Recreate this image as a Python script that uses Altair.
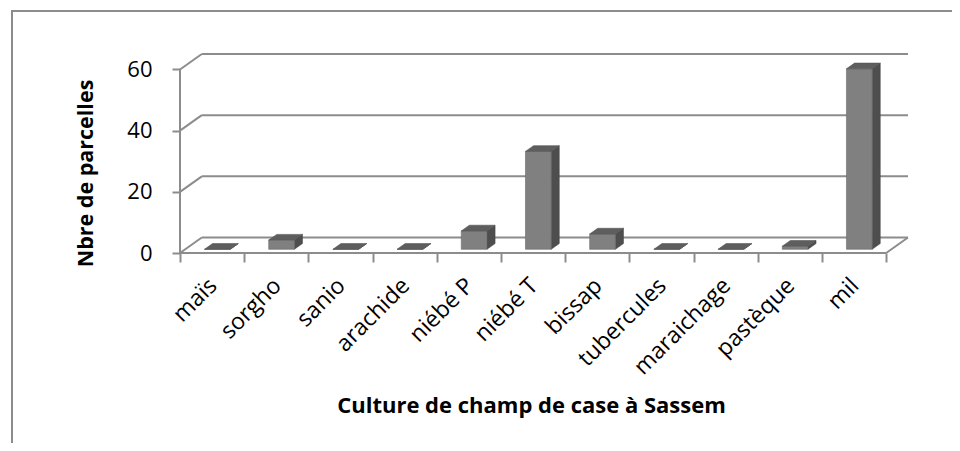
import json
import altair as alt
import pandas as pd

# ---- data ----
categories = ["maïs", "sorgho", "sanio", "arachide", "niébé P", "niébé T",
              "bissap", "tubercules", "maraichage", "pastèque", "mil"]
values = [0, 3, 0, 0, 6, 32, 5, 0, 0, 1, 59]
y_ticks = [0, 20, 40, 60]
x_title = "Culture de champ de case à Sassem"
y_title = "Nbre de parcelles"

# ---- 3D look (style constants, in scale units) ----
DEPTH_X = 0.34     # shift of the back wall along x (category units)
DEPTH_Y = 5.05     # shift of the back wall along y (value units)
BAR_W = 0.40       # bar width (fraction of a category)
BAR_F0 = 0.24      # depth of the bar's front face
BAR_D = 0.37       # depth of the bar
W, H = 728, 199
FONT = "Open Sans"
LINE = "#8c8c8c"

n = len(categories)
y_max = max(y_ticks)

# ---- tables built from the arrays ----
front_rows, top_rows, side_rows = [], [], []
for i, (c, v) in enumerate(zip(categories, values)):
    xl = i + 0.5 - BAR_W / 2 + BAR_F0 * DEPTH_X
    xr = xl + BAR_W
    y0 = BAR_F0 * DEPTH_Y
    y1 = v + y0
    ddx, ddy = BAR_D * DEPTH_X, BAR_D * DEPTH_Y
    front_rows.append(dict(cat=c, x=xl, x2=xr, y=y0, y2=y1))
    top_rows.append(dict(cat=c, y=y1, x=xl, x2=xr))
    top_rows.append(dict(cat=c, y=y1 + ddy, x=xl + ddx, x2=xr + ddx))
    side_rows.append(dict(cat=c, x=xr, y=y0, y2=y1))
    side_rows.append(dict(cat=c, x=xr + ddx, y=y0 + ddy, y2=y1 + ddy))
front = pd.DataFrame(front_rows)
top = pd.DataFrame(top_rows)
side = pd.DataFrame(side_rows)

seg_rows = []
for t in y_ticks:
    seg_rows.append(dict(x=DEPTH_X, x2=n + DEPTH_X, y=t + DEPTH_Y, y2=t + DEPTH_Y))
    seg_rows.append(dict(x=0, x2=DEPTH_X, y=t, y2=t + DEPTH_Y))
seg_rows.append(dict(x=0, x2=0, y=0, y2=y_max))
seg_rows.append(dict(x=0, x2=n, y=0, y2=0))
seg_rows.append(dict(x=n, x2=n + DEPTH_X, y=0, y2=DEPTH_Y))
segs = pd.DataFrame(seg_rows)

xs = alt.Scale(domain=[0, n + DEPTH_X], nice=False, zero=False)
ys = alt.Scale(domain=[0, y_max + DEPTH_Y], nice=False, zero=False)

label_expr = json.dumps(categories + [""], ensure_ascii=False) + "[datum.value]"

x_axis = alt.Axis(
    values=list(range(n + 1)), tickSize=9, tickColor=LINE, tickWidth=2,
    domain=False, grid=False, labelExpr=label_expr,
    labelOffset=25, labelAngle=315, labelAlign="right",
    labelBaseline="top", labelPadding=12, labelFont=FONT, labelFontSize=23,
    labelColor="#000000", labelOverlap=False, labelFlush=False,
    title=x_title, titleFont=FONT, titleFontSize=22, titleFontWeight="bold",
    titleColor="#000000", titleX=351, titleY=159, titleAlign="center",
    titleBaseline="alphabetic",
)
y_axis = alt.Axis(
    values=y_ticks, tickSize=8, tickColor=LINE, tickWidth=2, domain=False,
    grid=False, labelFont=FONT, labelFontSize=22, labelColor="#000000",
    labelPadding=20, title=y_title, titleFont=FONT, titleFontSize=21.5,
    titleFontWeight="bold", titleColor="#000000", titleAngle=270,
    titleX=-88, titleY=119, titleAlign="center", titleBaseline="alphabetic",
)

walls = alt.Chart(segs).mark_rule(color=LINE, strokeWidth=2).encode(
    x=alt.X("x:Q", scale=xs, axis=x_axis),
    x2="x2:Q",
    y=alt.Y("y:Q", scale=ys, axis=y_axis),
    y2="y2:Q",
)

front_face = alt.Chart(front).mark_rect(color="#808080", stroke="#6a6a6a", strokeWidth=0.6).encode(
    x=alt.X("x:Q", scale=xs, axis=x_axis), x2="x2:Q",
    y=alt.Y("y:Q", scale=ys, axis=y_axis), y2="y2:Q",
)
top_face = alt.Chart(top).mark_area(orient="horizontal", color="#5e5e5e",
                                    stroke="#555555", strokeWidth=0.6).encode(
    y=alt.Y("y:Q", scale=ys, axis=y_axis),
    x=alt.X("x:Q", scale=xs, axis=x_axis, stack=None), x2="x2:Q",
    detail="cat:N",
)
side_face = alt.Chart(side).mark_area(color="#4e4e4e", stroke="#474747", strokeWidth=0.6).encode(
    x=alt.X("x:Q", scale=xs, axis=x_axis),
    y=alt.Y("y:Q", scale=ys, axis=y_axis, stack=None), y2="y2:Q",
    detail="cat:N",
)

frame = pd.DataFrame([{"k": 0}])
border_left = alt.Chart(frame).mark_rule(color=LINE, strokeWidth=2).encode(
    x=alt.value(-168), y=alt.value(-43), y2=alt.value(400))
border_top = alt.Chart(frame).mark_rule(color=LINE, strokeWidth=2).encode(
    x=alt.value(-169), x2=alt.value(W + 44), y=alt.value(-43))

chart = alt.layer(walls, side_face, front_face, top_face, border_left, border_top).properties(
    width=W, height=H,
    autosize=alt.AutoSizeParams(type="none"),
    padding={"left": 172, "top": 46, "right": 44, "bottom": 190},
    background="white",
).configure_view(stroke=None)

chart.save("out.html", embed_options={"renderer": "svg", "actions": False})
